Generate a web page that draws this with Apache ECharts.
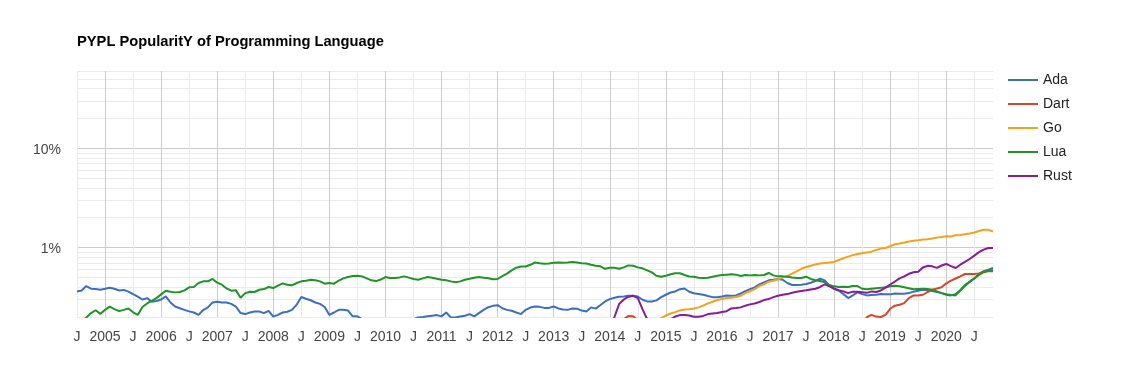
<!DOCTYPE html>
<html><head><meta charset="utf-8">
<script src="https://cdn.jsdelivr.net/npm/echarts@6/dist/echarts.min.js"></script>
<style>html,body{margin:0;padding:0;background:#fff}#chart{width:1125px;height:380px}</style>
</head><body><div id="chart"></div>
<script>
// ---- categories (monthly, Jul 2004 .. Nov 2020) ----
const firstMonth = [2004, 7];
const lastMonth = [2020, 11];
const months = [];
for (let y = firstMonth[0], m = firstMonth[1]; y < lastMonth[0] || (y === lastMonth[0] && m <= lastMonth[1]); ) {
  months.push(y + '-' + String(m).padStart(2, '0'));
  m++; if (m > 12) { m = 1; y++; }
}

const titleText = 'PYPL PopularitY of Programming Language';
const seriesNames = ['Ada', 'Dart', 'Go', 'Lua', 'Rust'];
const seriesColors = ['#3c6ec4', '#d9452a', '#f4a11c', '#1f9427', '#8b1a97'];

// ---- series values (share in %), each starting at its start month ----
const adaStart = '2004-07';
const adaValues = [
  0.362,0.37,0.41,0.385,0.383,0.377,0.385,0.394,0.385,0.37,0.375,0.36,
  0.34,0.32,0.30,0.31,0.285,0.29,0.30,0.322,0.28,0.255,0.245,0.236,
  0.228,0.222,0.21,0.235,0.25,0.28,0.285,0.28,0.28,0.271,0.255,0.219,
  0.214,0.222,0.227,0.227,0.219,0.231,0.202,0.21,0.222,0.226,0.236,0.266,
  0.318,0.305,0.295,0.28,0.271,0.252,0.21,0.222,0.236,0.236,0.232,0.203,
  0.203,0.19,0.18,0.17,0.17,0.16,0.16,0.16,0.17,0.17,0.17,0.18,
  0.19,0.198,0.2,0.203,0.206,0.209,0.203,0.222,0.198,0.198,0.202,0.206,
  0.214,0.203,0.219,0.236,0.251,0.259,0.263,0.245,0.236,0.231,0.222,0.214,
  0.236,0.249,0.255,0.253,0.247,0.247,0.255,0.244,0.238,0.236,0.244,0.242,
  0.232,0.227,0.25,0.243,0.264,0.287,0.303,0.313,0.32,0.322,0.327,0.327,
  0.322,0.298,0.287,0.287,0.294,0.317,0.335,0.353,0.362,0.381,0.387,0.359,
  0.347,0.341,0.335,0.325,0.317,0.317,0.322,0.33,0.328,0.33,0.345,0.365,
  0.382,0.398,0.426,0.447,0.468,0.475,0.483,0.475,0.44,0.42,0.42,0.423,
  0.43,0.443,0.461,0.486,0.468,0.413,0.382,0.368,0.34,0.31,0.33,0.354,
  0.34,0.33,0.333,0.335,0.34,0.338,0.338,0.345,0.343,0.343,0.348,0.36,
  0.368,0.376,0.371,0.365,0.357,0.348,0.34,0.333,0.33,0.37,0.41,0.45,
  0.49,0.54,0.58,0.6,0.625
];
const dartStart = '2014-02';
const dartValues = [
  0.12,0.15,0.19,0.205,0.204,
  0.185,0.15,0.14,0.13,0.13,0.14,0.14,0.15,0.15,0.14,0.14,0.15,
  0.15,0.15,0.14,0.14,0.15,0.15,0.15,0.16,0.16,0.15,0.15,0.16,
  0.16,0.16,0.15,0.15,0.16,0.16,0.16,0.17,0.16,0.16,0.17,0.17,
  0.17,0.16,0.16,0.17,0.17,0.17,0.16,0.17,0.17,0.17,0.18,0.17,
  0.17,0.199,0.21,0.202,0.2,0.21,0.242,0.26,0.266,0.276,0.31,0.33,
  0.33,0.335,0.357,0.376,0.387,0.399,0.436,0.464,0.488,0.513,0.542,0.542,
  0.542,0.55,0.57,0.577,0.577
];
const goStart = '2014-10';
const goValues = [
  0.17,0.185,0.195,0.207,0.217,0.224,0.233,0.238,0.24,
  0.244,0.25,0.26,0.274,0.285,0.296,0.303,0.31,0.313,0.318,0.327,0.348,
  0.362,0.382,0.41,0.426,0.453,0.464,0.479,0.498,0.517,0.547,0.576,0.612,
  0.637,0.657,0.677,0.69,0.7,0.708,0.717,0.75,0.78,0.81,0.84,0.862,
  0.876,0.89,0.91,0.947,0.977,0.99,1.032,1.08,1.1,1.124,1.15,1.17,
  1.186,1.205,1.214,1.232,1.26,1.28,1.302,1.29,1.33,1.34,1.36,1.385,
  1.42,1.47,1.51,1.51,1.45
];
const luaStart = '2004-07';
const luaValues = [
  0.17,0.18,0.198,0.219,0.234,0.215,0.236,0.254,0.24,0.229,0.236,0.244,
  0.223,0.21,0.252,0.274,0.291,0.31,0.338,0.368,0.359,0.354,0.357,0.371,
  0.398,0.401,0.44,0.457,0.457,0.483,0.443,0.423,0.388,0.368,0.371,0.312,
  0.348,0.359,0.357,0.376,0.382,0.401,0.391,0.413,0.436,0.423,0.417,0.44,
  0.457,0.464,0.475,0.468,0.457,0.433,0.44,0.433,0.464,0.49,0.505,0.517,
  0.521,0.513,0.49,0.468,0.46,0.477,0.505,0.494,0.494,0.501,0.513,0.498,
  0.483,0.475,0.49,0.505,0.498,0.486,0.475,0.468,0.457,0.447,0.457,0.475,
  0.486,0.498,0.505,0.498,0.49,0.479,0.483,0.517,0.547,0.59,0.627,0.646,
  0.646,0.671,0.708,0.695,0.686,0.69,0.703,0.708,0.703,0.708,0.717,0.708,
  0.695,0.69,0.671,0.657,0.648,0.612,0.627,0.627,0.612,0.632,0.662,0.657,
  0.632,0.618,0.59,0.563,0.521,0.509,0.521,0.538,0.551,0.551,0.53,0.511,
  0.509,0.498,0.494,0.498,0.509,0.521,0.53,0.534,0.538,0.534,0.517,0.53,
  0.525,0.53,0.525,0.53,0.555,0.525,0.513,0.513,0.509,0.501,0.494,0.494,
  0.509,0.483,0.468,0.46,0.447,0.42,0.407,0.401,0.404,0.401,0.41,0.41,
  0.385,0.38,0.385,0.39,0.393,0.399,0.408,0.413,0.408,0.399,0.39,0.38,
  0.383,0.385,0.383,0.376,0.362,0.348,0.335,0.33,0.34,0.372,0.42,0.455,
  0.488,0.53,0.565,0.585,0.595
];
const rustStart = '2013-09';
const rustValues = [
  0.1,0.11,0.12,0.13,0.15,0.2,0.27,0.3,0.32,0.327,
  0.31,0.24,0.19,0.16,0.16,0.17,0.18,0.19,0.202,0.209,0.21,0.207,
  0.201,0.201,0.205,0.214,0.217,0.219,0.225,0.229,0.244,0.246,0.25,0.26,
  0.268,0.274,0.283,0.296,0.303,0.317,0.327,0.335,0.34,0.351,0.359,0.365,
  0.371,0.379,0.385,0.401,0.426,0.407,0.388,0.373,0.362,0.348,0.36,0.36,
  0.355,0.35,0.362,0.357,0.37,0.395,0.425,0.455,0.49,0.513,0.545,0.565,
  0.57,0.63,0.655,0.647,0.625,0.66,0.684,0.65,0.623,0.672,0.717,0.768,
  0.83,0.9,0.954,0.99,0.99
];

// ---- axis / grid ticks ----
const yMin = 0.2, yMax = 60;
const yLabelTicks = [1, 10];
const yLabelTexts = ['1%', '10%'];
const yMinorGrid = [0.2,0.3,0.4,0.5,0.6,0.7,0.8,0.9,2,3,4,5,6,7,8,9,20,30,40,50,60];
const yMajorGrid = [1, 10];
const xYearMonth = '01';   // labelled with the year, darker line
const xMidMonth = '07';    // labelled "J", lighter line
const xMidLabel = 'J';

const FONT = '"Liberation Sans", Arial, sans-serif';
const LIGHT = '#ebebeb', DARK = '#cccccc';

function pairs(start, values) {
  const i0 = months.indexOf(start);
  return values.map((v, k) => [months[i0 + k], v]);
}
const seriesData = {
  Ada: pairs(adaStart, adaValues),
  Dart: pairs(dartStart, dartValues),
  Go: pairs(goStart, goValues),
  Lua: pairs(luaStart, luaValues),
  Rust: pairs(rustStart, rustValues)
};

const gridLines = [];
yMinorGrid.forEach(v => gridLines.push({ yAxis: v, lineStyle: { color: LIGHT } }));
yMajorGrid.forEach(v => gridLines.push({ yAxis: v, lineStyle: { color: DARK } }));
months.forEach(m => {
  if (m.endsWith('-' + xMidMonth)) gridLines.push({ xAxis: m, lineStyle: { color: LIGHT } });
});
months.forEach(m => {
  if (m.endsWith('-' + xYearMonth)) gridLines.push({ xAxis: m, lineStyle: { color: DARK } });
});

const chart = echarts.init(document.getElementById('chart'), null, { renderer: 'canvas' });
const option = {
  animation: false,
  backgroundColor: '#ffffff',
  textStyle: { fontFamily: FONT },
  title: {
    text: titleText, left: 77, top: 34, padding: 0,
    textStyle: { fontFamily: FONT, fontSize: 14.7, fontWeight: 'bold', color: '#000' }
  },
  legend: {
    orient: 'vertical', left: 1008, top: 73, padding: 0,
    icon: 'rect', itemWidth: 30, itemHeight: 2, itemGap: 10,
    data: seriesNames,
    textStyle: { fontFamily: FONT, fontSize: 14, color: '#222' }
  },
  grid: { left: 77, right: 132, top: 71, bottom: 63, containLabel: false },
  xAxis: {
    type: 'category', data: months, boundaryGap: false,
    axisLine: { show: false }, axisTick: { show: false }, splitLine: { show: false },
    axisLabel: {
      interval: (i, v) => v.endsWith('-' + xYearMonth) || v.endsWith('-' + xMidMonth),
      formatter: v => v.endsWith('-' + xMidMonth) ? xMidLabel : v.slice(0, 4),
      color: '#444', fontSize: 14, margin: 13, fontFamily: FONT
    }
  },
  yAxis: {
    type: 'log', logBase: 10, min: yMin, max: yMax,
    axisLine: { show: false }, axisTick: { show: false }, splitLine: { show: false },
    axisLabel: {
      formatter: v => {
        for (let i = 0; i < yLabelTicks.length; i++) {
          if (Math.abs(v - yLabelTicks[i]) < 1e-6 * yLabelTicks[i]) return '\n' + yLabelTexts[i];
        }
        return '';
      },
      color: '#444', fontSize: 14, lineHeight: 4, margin: 16, fontFamily: FONT
    }
  },
  series: [
    {
      type: 'line', name: '__grid', data: [], silent: true, z: 1,
      markLine: {
        silent: true, z: 1, animation: false,
        symbol: ['none', 'none'],
        label: { show: false },
        emphasis: { disabled: true },
        lineStyle: { type: 'solid', width: 1 },
        data: gridLines
      }
    }
  ].concat(seriesNames.map((name, i) => ({
    type: 'line', name: name, data: seriesData[name],
    symbol: 'none', showSymbol: false, smooth: false, clip: true, z: 3,
    lineStyle: { width: 2, color: seriesColors[i] },
    itemStyle: { color: seriesColors[i] },
    emphasis: { disabled: true }
  })))
};
chart.setOption(option);
</script>
</body></html>
